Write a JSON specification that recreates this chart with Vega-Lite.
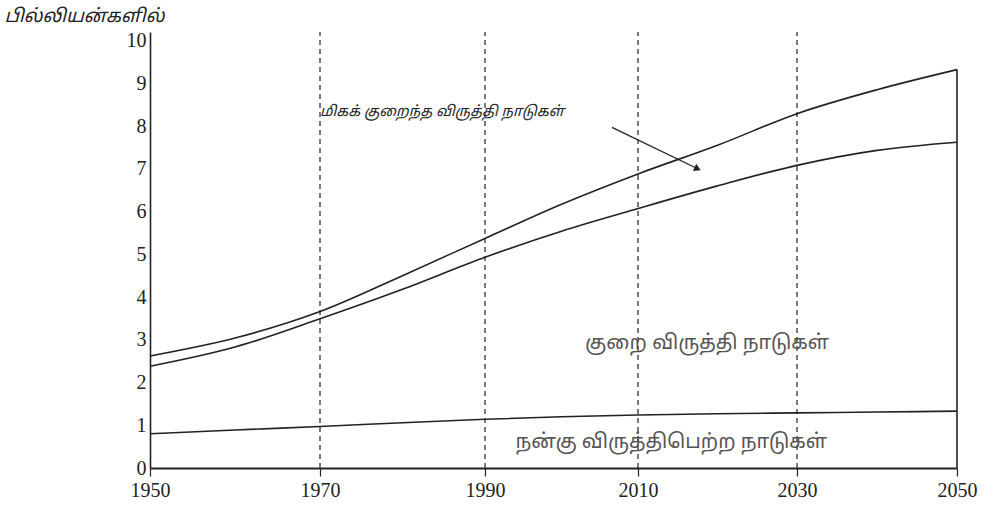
{
  "$schema": "https://vega.github.io/schema/vega-lite/v6.json",
  "autosize": "none",
  "width": 807,
  "height": 436,
  "padding": {"left": 150, "top": 32, "right": 31, "bottom": 43},
  "background": "white",
  "config": {"view": {"stroke": null}},
  "datasets": {
    "curves": [
      {"year": 1950, "developed": 0.80, "less": 2.38, "total": 2.62},
      {"year": 1960, "developed": 0.89, "less": 2.83, "total": 3.04},
      {"year": 1970, "developed": 0.97, "less": 3.49, "total": 3.66},
      {"year": 1980, "developed": 1.06, "less": 4.18, "total": 4.50},
      {"year": 1990, "developed": 1.14, "less": 4.93, "total": 5.37},
      {"year": 2000, "developed": 1.20, "less": 5.54, "total": 6.17},
      {"year": 2010, "developed": 1.24, "less": 6.07, "total": 6.88},
      {"year": 2020, "developed": 1.27, "less": 6.60, "total": 7.55},
      {"year": 2030, "developed": 1.29, "less": 7.08, "total": 8.29},
      {"year": 2040, "developed": 1.31, "less": 7.43, "total": 8.85},
      {"year": 2050, "developed": 1.33, "less": 7.62, "total": 9.32}
    ],
    "dashes": [{"year": 1970}, {"year": 1990}, {"year": 2010}, {"year": 2030}],
    "labels": [
      {"id": "least", "year": 1984.8, "value": 8.32, "text": "மிகக் குறைந்த விருத்தி நாடுகள்"},
      {"id": "less", "year": 2018.7, "value": 2.92, "text": "குறை விருத்தி நாடுகள்"},
      {"id": "dev", "year": 2014.2, "value": 0.61, "text": "நன்கு விருத்திபெற்ற நாடுகள்"}
    ],
    "arrow": [{"x": 2006.6, "y": 7.97, "x2": 2017.5, "y2": 7.0}],
    "edge": [{"year": 2050, "lo": 0, "hi": 9.32}]
  },
  "layer": [
    {
      "data": {"name": "dashes"},
      "mark": {"type": "rule", "strokeDash": [5, 4], "color": "#333", "strokeWidth": 1.3},
      "encoding": {
        "x": {"field": "year", "type": "quantitative",
          "scale": {"domain": [1950, 1970, 1990, 2010, 2030, 2050], "range": [0, 170, 335, 488, 647, 807], "nice": false, "zero": false},
          "axis": {"values": [1950, 1970, 1990, 2010, 2030, 2050], "format": "d", "title": null, "grid": false,
            "labelFlush": false, "labelOverlap": false,
            "domainColor": "#222", "domainWidth": 2, "tickColor": "#222", "tickSize": 8, "tickWidth": 1.2,
            "labelFont": "Liberation Serif", "labelFontSize": 20, "labelColor": "#222", "labelPadding": 4}},
        "y": {"datum": 0, "type": "quantitative", "scale": {"domain": [0, 10.2], "nice": false},
          "axis": {"values": [0, 1, 2, 3, 4, 5, 6, 7, 8, 9, 10], "grid": false, "ticks": false,
            "domainColor": "#222", "domainWidth": 1.6,
            "labelFont": "Liberation Serif", "labelFontSize": 20, "labelColor": "#222", "labelPadding": 4,
            "title": "பில்லியன்களில்", "titleAngle": 0, "titleX": -146, "titleY": -11, "titleAlign": "left",
            "titleBaseline": "alphabetic", "titleFont": "Noto Sans Tamil, Noto Sans, sans-serif", "titleFontStyle": "italic",
            "titleFontWeight": "normal", "titleFontSize": 18.5, "titleColor": "#222"}},
        "y2": {"datum": 10.2}
      }
    },
    {
      "data": {"name": "curves"},
      "mark": {"type": "line", "interpolate": "monotone", "color": "#222", "strokeWidth": 1.6},
      "encoding": {"x": {"field": "year", "type": "quantitative"}, "y": {"field": "developed", "type": "quantitative"}}
    },
    {
      "data": {"name": "curves"},
      "mark": {"type": "line", "interpolate": "monotone", "color": "#222", "strokeWidth": 1.6},
      "encoding": {"x": {"field": "year", "type": "quantitative"}, "y": {"field": "less", "type": "quantitative"}}
    },
    {
      "data": {"name": "curves"},
      "mark": {"type": "line", "interpolate": "monotone", "color": "#222", "strokeWidth": 1.6},
      "encoding": {"x": {"field": "year", "type": "quantitative"}, "y": {"field": "total", "type": "quantitative"}}
    },
    {
      "data": {"name": "edge"},
      "mark": {"type": "rule", "color": "#222", "strokeWidth": 1.6},
      "encoding": {"x": {"field": "year", "type": "quantitative"}, "y": {"field": "lo", "type": "quantitative"}, "y2": {"field": "hi"}}
    },
    {
      "data": {"name": "arrow"},
      "mark": {"type": "rule", "color": "#222", "strokeWidth": 1.3},
      "encoding": {"x": {"field": "x", "type": "quantitative"}, "y": {"field": "y", "type": "quantitative"},
        "x2": {"field": "x2"}, "y2": {"field": "y2"}}
    },
    {
      "data": {"name": "arrow"},
      "mark": {"type": "point", "shape": "triangle-right", "angle": 25, "size": 60, "filled": true, "color": "#222", "opacity": 1},
      "encoding": {"x": {"field": "x2", "type": "quantitative"}, "y": {"field": "y2", "type": "quantitative"}}
    },
    {
      "data": {"name": "labels"},
      "transform": [{"filter": "datum.id === 'least'"}],
      "mark": {"type": "text", "font": "Noto Sans Tamil, Noto Sans, sans-serif", "fontStyle": "italic", "fontSize": 14.5, "color": "#222", "align": "center", "baseline": "middle"},
      "encoding": {"x": {"field": "year", "type": "quantitative"}, "y": {"field": "value", "type": "quantitative"}, "text": {"field": "text"}}
    },
    {
      "data": {"name": "labels"},
      "transform": [{"filter": "datum.id !== 'least'"}],
      "mark": {"type": "text", "font": "Noto Sans Tamil, Noto Sans, sans-serif", "fontSize": 20, "color": "#555", "align": "center", "baseline": "middle"},
      "encoding": {"x": {"field": "year", "type": "quantitative"}, "y": {"field": "value", "type": "quantitative"}, "text": {"field": "text"}}
    }
  ]
}
